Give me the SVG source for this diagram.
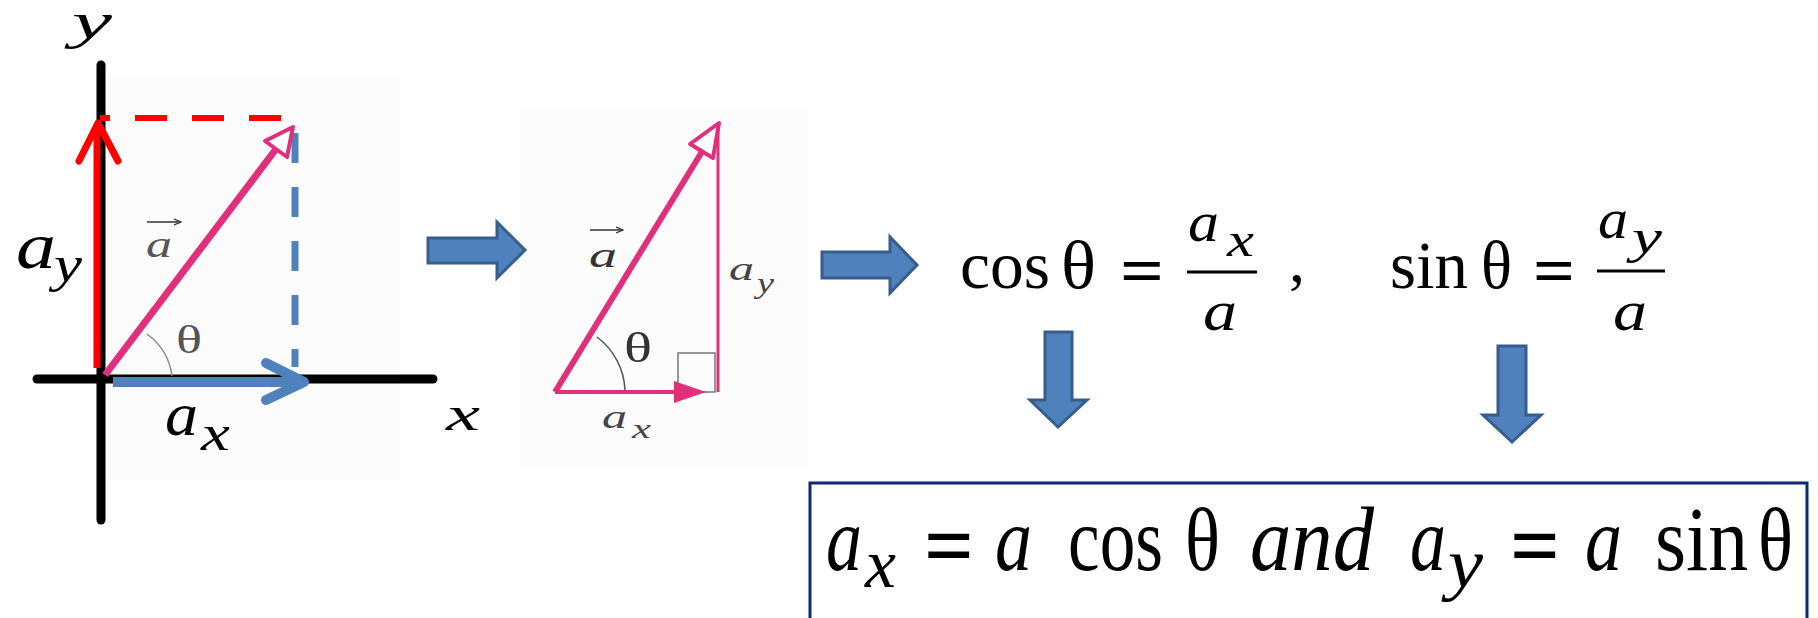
<svg xmlns="http://www.w3.org/2000/svg" width="1818" height="618" viewBox="0 0 1818 618">
<style>
.m{font-family:"Liberation Serif","Times New Roman",serif;fill:#000}
.i{font-style:italic}
.blk{fill:#4f81bd;stroke:#385d8a;stroke-width:3;stroke-linejoin:miter}
.pk{stroke:#e0307c;fill:none}
</style>
<defs>
<marker id="sm" markerWidth="8" markerHeight="8" refX="7" refY="4" orient="auto" markerUnits="userSpaceOnUse"><path d="M0,1 L7,4 L0,7" fill="none" stroke="#333" stroke-width="1.2"/></marker>
</defs>
<rect width="1818" height="618" fill="#fff"/>

<g id="axes-diagram">
<rect x="107" y="77" width="293" height="403" fill="#fcfcfc"/>
<line x1="101" y1="65" x2="101" y2="520" stroke="#000" stroke-width="9" stroke-linecap="round"/>
<line x1="37" y1="379" x2="433" y2="379" stroke="#000" stroke-width="9" stroke-linecap="round"/>
<line x1="100" y1="118" x2="282" y2="118" stroke="#ff0000" stroke-width="6" stroke-dasharray="10,25,32,25,32,25,32"/>
<line x1="295" y1="133" x2="295" y2="367" stroke="#4f81bd" stroke-width="7" stroke-dasharray="30,24"/>
<path d="M147,334 A62,62 0 0 1 172,376" fill="none" stroke="#888" stroke-width="1.5"/>
<line x1="105" y1="375" x2="276" y2="149" class="pk" stroke-width="7"/>
<polygon points="293,127 287,157 265,141" fill="#fff" stroke="#e0307c" stroke-width="4" stroke-linejoin="round"/>
<line x1="97" y1="368" x2="97" y2="124" stroke="#ff0000" stroke-width="7"/>
<polyline points="79,161 98,123 118,161" fill="none" stroke="#ff0000" stroke-width="7" stroke-linecap="round" stroke-linejoin="round"/>
<line x1="113" y1="382" x2="303" y2="382" stroke="#4f81bd" stroke-width="10"/>
<polyline points="266,363 304,382 266,400" fill="none" stroke="#4f81bd" stroke-width="10" stroke-linecap="round" stroke-linejoin="round"/>
<text class="m i" x="72" y="38" font-size="50" textLength="40" lengthAdjust="spacingAndGlyphs">y</text>
<text class="m i" x="446" y="430" font-size="48" textLength="34" lengthAdjust="spacingAndGlyphs">x</text>
<text class="m i" x="16" y="268" font-size="66" textLength="40" lengthAdjust="spacingAndGlyphs">a</text>
<text class="m i" x="54" y="281" font-size="50" textLength="28" lengthAdjust="spacingAndGlyphs">y</text>
<text class="m i" x="165" y="435" font-size="62" textLength="33" lengthAdjust="spacingAndGlyphs">a</text>
<text class="m i" x="201" y="450" font-size="50" textLength="29" lengthAdjust="spacingAndGlyphs">x</text>
<text class="m i" x="146" y="257" font-size="38" style="fill:#555" textLength="26" lengthAdjust="spacingAndGlyphs">a</text>
<line x1="147" y1="222" x2="181" y2="222" stroke="#333" stroke-width="1.5" marker-end="url(#sm)"/>
<text class="m" x="176" y="353" font-size="40" style="fill:#555" textLength="26" lengthAdjust="spacingAndGlyphs">θ</text>
</g>

<g id="triangle-diagram">
<rect x="520" y="110" width="288" height="358" fill="#fcfcfc"/>
<rect x="678" y="353" width="37" height="39" fill="none" stroke="#777" stroke-width="1.5"/>
<path d="M597,337 A70,70 0 0 1 625,390" fill="none" stroke="#555" stroke-width="1.5"/>
<line x1="718" y1="392" x2="718" y2="128" class="pk" stroke-width="3"/>
<line x1="555" y1="392" x2="690" y2="392" class="pk" stroke-width="4"/>
<polygon points="706,392 674,381 674,403" fill="#e0307c"/>
<line x1="555" y1="392" x2="703" y2="150" class="pk" stroke-width="6"/>
<polygon points="719,123 713,158 690,144" fill="#fff" stroke="#e0307c" stroke-width="4" stroke-linejoin="round"/>
<text class="m i" x="589" y="267" font-size="36" style="fill:#333" textLength="28" lengthAdjust="spacingAndGlyphs">a</text>
<line x1="590" y1="230" x2="623" y2="230" stroke="#333" stroke-width="1.5" marker-end="url(#sm)"/>
<text class="m" x="624" y="362" font-size="42" style="fill:#333" textLength="28" lengthAdjust="spacingAndGlyphs">θ</text>
<text class="m i" x="729" y="280" font-size="34" style="fill:#444" textLength="25" lengthAdjust="spacingAndGlyphs">a</text>
<text class="m i" x="757" y="293" font-size="30" style="fill:#444" textLength="17" lengthAdjust="spacingAndGlyphs">y</text>
<text class="m i" x="602" y="428" font-size="34" style="fill:#444" textLength="25" lengthAdjust="spacingAndGlyphs">a</text>
<text class="m i" x="632" y="438" font-size="28" style="fill:#444" textLength="19" lengthAdjust="spacingAndGlyphs">x</text>
</g>

<g id="ratio-formulas">
<text class="m" x="960" y="288" font-size="68" textLength="90" lengthAdjust="spacingAndGlyphs">cos</text>
<text class="m" x="1061" y="288" font-size="68" textLength="35" lengthAdjust="spacingAndGlyphs">θ</text>
<text class="m" x="1120" y="293" font-size="68" font-weight="bold" textLength="44" lengthAdjust="spacingAndGlyphs">=</text>
<line x1="1187" y1="272" x2="1257" y2="272" stroke="#000" stroke-width="3"/>
<text class="m i" x="1188" y="241" font-size="56" textLength="31" lengthAdjust="spacingAndGlyphs">a</text>
<text class="m i" x="1227" y="256" font-size="48" textLength="27" lengthAdjust="spacingAndGlyphs">x</text>
<text class="m i" x="1203" y="330" font-size="56" textLength="34" lengthAdjust="spacingAndGlyphs">a</text>
<text class="m" x="1289" y="282" font-size="64">,</text>
<text class="m" x="1390" y="288" font-size="68" textLength="78" lengthAdjust="spacingAndGlyphs">sin</text>
<text class="m" x="1481" y="288" font-size="68" textLength="31" lengthAdjust="spacingAndGlyphs">θ</text>
<text class="m" x="1533" y="293" font-size="68" font-weight="bold" textLength="42" lengthAdjust="spacingAndGlyphs">=</text>
<line x1="1597" y1="271" x2="1665" y2="271" stroke="#000" stroke-width="3"/>
<text class="m i" x="1598" y="238" font-size="56" textLength="30" lengthAdjust="spacingAndGlyphs">a</text>
<text class="m i" x="1632" y="253" font-size="48" textLength="30" lengthAdjust="spacingAndGlyphs">y</text>
<text class="m i" x="1613" y="330" font-size="56" textLength="34" lengthAdjust="spacingAndGlyphs">a</text>
</g>

<g id="result-box">
<rect x="810" y="483" width="997" height="150" fill="#fff" stroke="#0d2a6e" stroke-width="3"/>
<text class="m i" x="826" y="570" font-size="92" textLength="36" lengthAdjust="spacingAndGlyphs">a</text>
<text class="m i" x="865" y="587" font-size="70" textLength="31" lengthAdjust="spacingAndGlyphs">x</text>
<text class="m" x="924" y="576" font-size="92" font-weight="bold" textLength="50" lengthAdjust="spacingAndGlyphs">=</text>
<text class="m i" x="995" y="570" font-size="92" textLength="37" lengthAdjust="spacingAndGlyphs">a</text>
<text class="m" x="1068" y="570" font-size="92" textLength="95" lengthAdjust="spacingAndGlyphs">cos</text>
<text class="m" x="1185" y="570" font-size="88" textLength="35" lengthAdjust="spacingAndGlyphs">θ</text>
<text class="m i" x="1250" y="570" font-size="92" textLength="124" lengthAdjust="spacingAndGlyphs">and</text>
<text class="m i" x="1410" y="570" font-size="92" textLength="36" lengthAdjust="spacingAndGlyphs">a</text>
<text class="m i" x="1448" y="587" font-size="70" textLength="35" lengthAdjust="spacingAndGlyphs">y</text>
<text class="m" x="1510" y="576" font-size="92" font-weight="bold" textLength="50" lengthAdjust="spacingAndGlyphs">=</text>
<text class="m i" x="1585" y="570" font-size="92" textLength="37" lengthAdjust="spacingAndGlyphs">a</text>
<text class="m" x="1655" y="570" font-size="92" textLength="93" lengthAdjust="spacingAndGlyphs">sin</text>
<text class="m" x="1758" y="570" font-size="88" textLength="35" lengthAdjust="spacingAndGlyphs">θ</text>
</g>

<g id="connectors">
<path class="blk" d="M428,238 H497 V222 L525,250 L497,278 V263 H428 Z"/>
<path class="blk" d="M822,252 H890 V237 L917,265 L890,293 V278 H822 Z"/>
<path class="blk" d="M1045,332 H1072 V400 H1087 L1058,427 L1030,400 H1045 Z"/>
<path class="blk" d="M1498,346 H1526 V415 H1541 L1512,442 L1483,415 H1498 Z"/>
</g>
</svg>
